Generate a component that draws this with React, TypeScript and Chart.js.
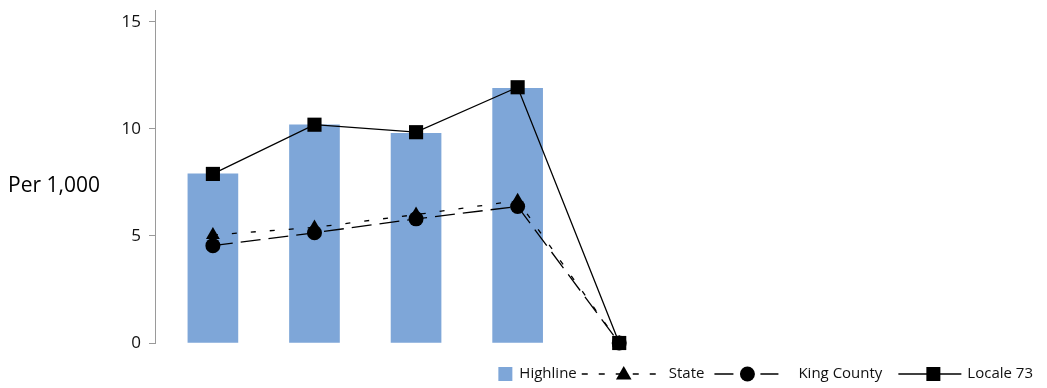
import { useEffect, useRef } from "react";
import { Chart, registerables } from "chart.js";
Chart.register(...registerables);

const categories = ["1", "2", "3", "4", "5"];
const highline = [7.9, 10.2, 9.8, 11.9, null];
const stateVals = [5.05, 5.4, 6.0, 6.65, 0];
const kingCounty = [4.55, 5.15, 5.8, 6.38, 0];
const locale73 = [7.9, 10.2, 9.85, 11.95, 0];
const yTicks = [0, 5, 10, 15];
const yTitle = "Per 1,000";
const seriesNames = ["Highline", "State", "King County", "Locale 73"];

const BAR = "#7EA6D8";
const AXIS = "#9a9a9a";
const FONT = '"Open Sans", "Noto Sans", sans-serif';

const toXY = (arr: (number | null)[]) => arr.map((y, i) => ({ x: i, y }));

function drawTri(ctx: CanvasRenderingContext2D, x: number, y: number, r: number) {
  ctx.beginPath();
  ctx.moveTo(x, y - r);
  ctx.lineTo(x + r * 0.866, y + r * 0.5);
  ctx.lineTo(x - r * 0.866, y + r * 0.5);
  ctx.closePath();
  ctx.fill();
}

const extras = {
  id: "extras",
  afterDraw(chart: any) {
    const ctx: CanvasRenderingContext2D = chart.ctx;
    ctx.save();
    // y title
    ctx.fillStyle = "#000";
    ctx.font = `21px ${FONT}`;
    ctx.textBaseline = "middle";
    ctx.textAlign = "left";
    ctx.fillText(yTitle, 8, 186);
    // legend
    ctx.font = `15px ${FONT}`;
    const w = seriesNames.map((n) => ctx.measureText(n).width);
    const total = 14 + 7 + w[0] + 5 + 79 + 8 + w[1] + 10 + 64 + 20 + w[2] + 16 + 63 + 6 + w[3];
    let x = 1033 - total;
    const y = 374;
    ctx.fillStyle = BAR;
    ctx.fillRect(x, y - 7, 14, 14);
    x += 14 + 7;
    ctx.fillStyle = "#111";
    ctx.fillText(seriesNames[0], x, y);
    x += w[0] + 5;
    // state icon
    ctx.strokeStyle = "#000";
    ctx.lineWidth = 1.3;
    ctx.setLineDash([6, 11]);
    ctx.beginPath();
    ctx.moveTo(x, y);
    ctx.lineTo(x + 79, y);
    ctx.stroke();
    ctx.setLineDash([]);
    ctx.fillStyle = "#000";
    drawTri(ctx, x + 42, y + 1, 9);
    x += 79 + 8;
    ctx.fillStyle = "#111";
    ctx.fillText(seriesNames[1], x, y);
    x += w[1] + 10;
    // king icon
    ctx.beginPath();
    ctx.moveTo(x, y);
    ctx.lineTo(x + 19, y);
    ctx.moveTo(x + 46, y);
    ctx.lineTo(x + 64, y);
    ctx.stroke();
    ctx.fillStyle = "#000";
    ctx.beginPath();
    ctx.arc(x + 33, y, 7.5, 0, Math.PI * 2);
    ctx.fill();
    x += 64 + 20;
    ctx.fillStyle = "#111";
    ctx.fillText(seriesNames[2], x, y);
    x += w[2] + 16;
    // locale icon
    ctx.beginPath();
    ctx.moveTo(x, y);
    ctx.lineTo(x + 63, y);
    ctx.stroke();
    ctx.fillStyle = "#000";
    ctx.fillRect(x + 28, y - 7, 14, 14);
    x += 63 + 6;
    ctx.fillStyle = "#111";
    ctx.fillText(seriesNames[3], x, y);
    ctx.restore();
  },
};

export default function App() {
  const ref = useRef<HTMLCanvasElement>(null);
  useEffect(() => {
    if (!ref.current) return;
    const chart = new Chart(ref.current, {
      type: "bar",
      data: {
        labels: categories,
        datasets: [
          {
            type: "bar",
            label: seriesNames[0],
            data: toXY(highline) as any,
            backgroundColor: BAR,
            barThickness: 50,
            order: 10,
          },
          {
            type: "line",
            label: seriesNames[1],
            data: toXY(stateVals) as any,
            borderColor: "#000",
            backgroundColor: "#000",
            borderWidth: 1.3,
            borderDash: [5, 14],
            pointStyle: "triangle",
            pointRadius: 8,
            pointBorderWidth: 0,
            clip: false as any,
            order: 3,
          },
          {
            type: "line",
            label: seriesNames[2],
            data: toXY(kingCounty) as any,
            borderColor: "#000",
            backgroundColor: "#000",
            borderWidth: 1.3,
            borderDash: [20, 8],
            pointStyle: "circle",
            pointRadius: 7.5,
            pointBorderWidth: 0,
            clip: false as any,
            order: 2,
          },
          {
            type: "line",
            label: seriesNames[3],
            data: toXY(locale73) as any,
            borderColor: "#000",
            backgroundColor: "#000",
            borderWidth: 1.3,
            pointStyle: "rect",
            pointRadius: 10,
            pointBorderWidth: 0,
            clip: false as any,
            order: 1,
          },
        ],
      },
      options: {
        animation: false,
        responsive: false,
        layout: { padding: { top: 2, right: 377, bottom: 45, left: 0 } },
        plugins: { legend: { display: false }, tooltip: { enabled: false } },
        scales: {
          x: { type: "linear", min: -0.57, max: 4.5, offset: false, display: false },
          y: {
            min: 0,
            max: 15.56,
            afterBuildTicks: (s: any) => {
              s.ticks = yTicks.map((v) => ({ value: v }));
            },
            afterFit: (s: any) => {
              s.width = 155;
              s.paddingTop = 0;
              s.paddingBottom = 0;
            },
            ticks: { font: { family: FONT, size: 17 }, color: "#111", padding: 8 },
            grid: { drawOnChartArea: false, tickLength: 6, color: AXIS },
            border: { color: AXIS },
          },
        },
      },
      plugins: [extras],
    });
    return () => chart.destroy();
  }, []);
  return (
    <div style={{ position: "absolute", left: 0, top: 0, width: 1047, height: 388, background: "#fff" }}>
      <canvas ref={ref} width={1047} height={388} />
    </div>
  );
}
